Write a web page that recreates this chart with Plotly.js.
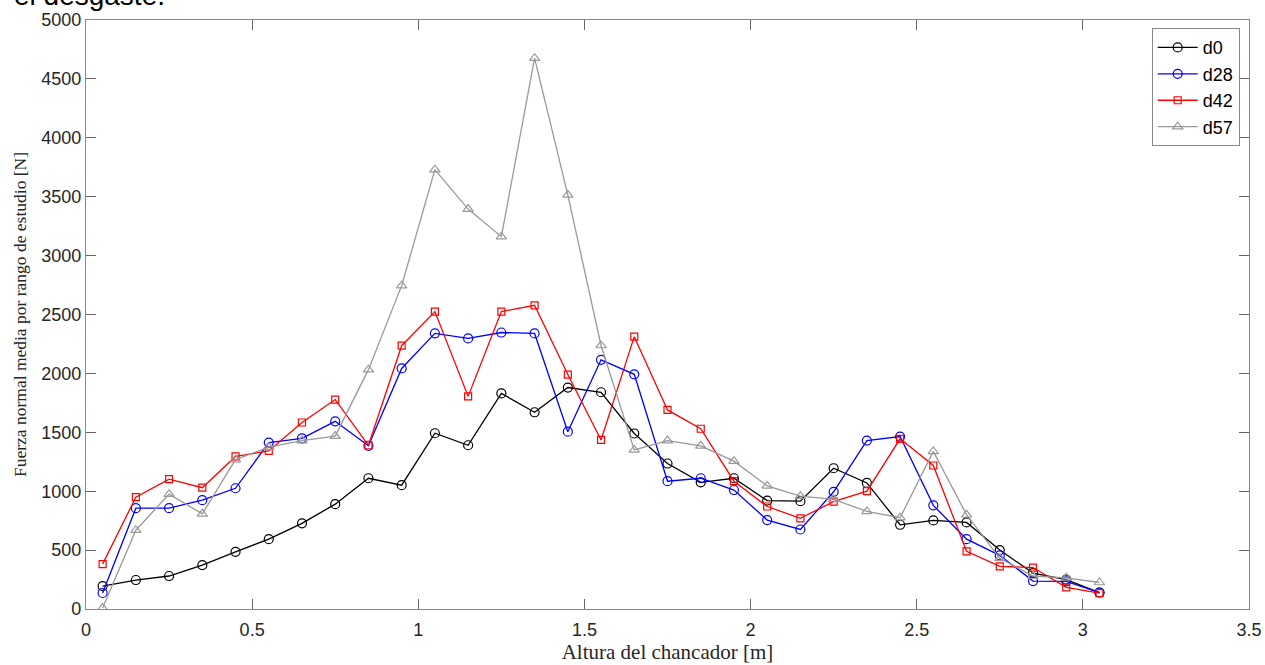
<!DOCTYPE html>
<html>
<head>
<meta charset="utf-8">
<script src="https://cdn.plot.ly/plotly-3.0.1.min.js"></script>
<style>html,body{margin:0;padding:0;background:#fff;}#chart{width:1265px;height:665px;}</style>
</head>
<body>
<div id="chart"></div>
<script>
const altura = [0.05,0.15,0.25,0.35,0.45,0.55,0.65,0.75,0.85,0.95,1.05,1.15,1.25,1.35,1.45,1.55,1.65,1.75,1.85,1.95,2.05,2.15,2.25,2.35,2.45,2.55,2.65,2.75,2.85,2.95,3.05];
const d0  = [195,246,280,373,485,593,727,890,1110,1051,1492,1390,1830,1670,1880,1840,1490,1235,1075,1110,920,915,1195,1070,715,752,735,500,305,250,140];
const d28 = [136,856,856,924,1025,1413,1449,1593,1385,2042,2340,2297,2347,2339,1505,2115,1992,1085,1110,1010,755,675,995,1430,1464,880,593,455,237,235,140];
const d42 = [381,949,1102,1030,1295,1342,1583,1778,1390,2235,2525,1805,2525,2578,1990,1435,2312,1690,1530,1085,870,770,912,1000,1445,1218,490,362,352,184,135];
const d57 = [8,669,975,808,1268,1375,1430,1468,2032,2745,3730,3395,3161,4676,3515,2237,1350,1430,1385,1255,1045,958,930,828,775,1338,800,430,280,265,225];
const seriesNames = ['d0','d28','d42','d57'];
const xTicks = [0,0.5,1,1.5,2,2.5,3,3.5];
const yTicks = [0,500,1000,1500,2000,2500,3000,3500,4000,4500,5000];

const colors = ['#000000','#0000ff','#ff0000','#999999'];
const symbols = ['circle-open','circle-open','square-open','triangle-up-open'];
const sizes = [9,9,7,9];
const data = [d0,d28,d42,d57].map((v,i)=>({
  x: altura, y: v, name: seriesNames[i], type:'scatter', mode:'lines+markers',
  line:{color:colors[i], width:1.3},
  marker:{symbol:symbols[i], size:sizes[i], color:colors[i], line:{width:1.2, color:colors[i]}}
}));

const axisCommon = {
  showgrid:false, zeroline:false, showline:true, mirror:'ticks',
  linecolor:'#888888', linewidth:1.2, ticks:'inside', ticklen:10, tickcolor:'#666666',
  tickfont:{family:'Liberation Sans, Arial, sans-serif', size:18, color:'#262626'}
};

const layout = {
  width:1265, height:665,
  margin:{l:86, r:16, t:20, b:56},
  paper_bgcolor:'#ffffff', plot_bgcolor:'#ffffff',
  showlegend:true,
  legend:{x:0.992, xanchor:'right', y:0.986, yanchor:'top', bgcolor:'#ffffff',
    bordercolor:'#888888', borderwidth:1,
    font:{family:'Liberation Sans, Arial, sans-serif', size:18, color:'#000'},
    tracegroupgap:0, itemwidth:40},
  xaxis: Object.assign({}, axisCommon, {
    range:[0,3.5], tickvals:xTicks, ticktext:xTicks.map(String), ticklabelstandoff:4,
    title:{text:'Altura del chancador [m]', standoff:0,
      font:{family:'Liberation Serif, Times New Roman, serif', size:21, color:'#262626'}}
  }),
  yaxis: Object.assign({}, axisCommon, {
    range:[0,5000], tickvals:yTicks, ticktext:yTicks.map(String),
    title:{text:'Fuerza normal media por rango de estudio [N]', standoff:10,
      font:{family:'Liberation Serif, Times New Roman, serif', size:17.5, color:'#262626'}}
  }),
  annotations:[{
    text:'el desgaste.', xref:'paper', yref:'paper', x:-0.064, y:1.0, xanchor:'left', yanchor:'bottom',
    yshift:7, showarrow:false, font:{family:'Liberation Sans, Arial, sans-serif', size:28, color:'#000'}
  }]
};

Plotly.newPlot('chart', data, layout, {displayModeBar:false, staticPlot:true});
</script>
</body>
</html>
